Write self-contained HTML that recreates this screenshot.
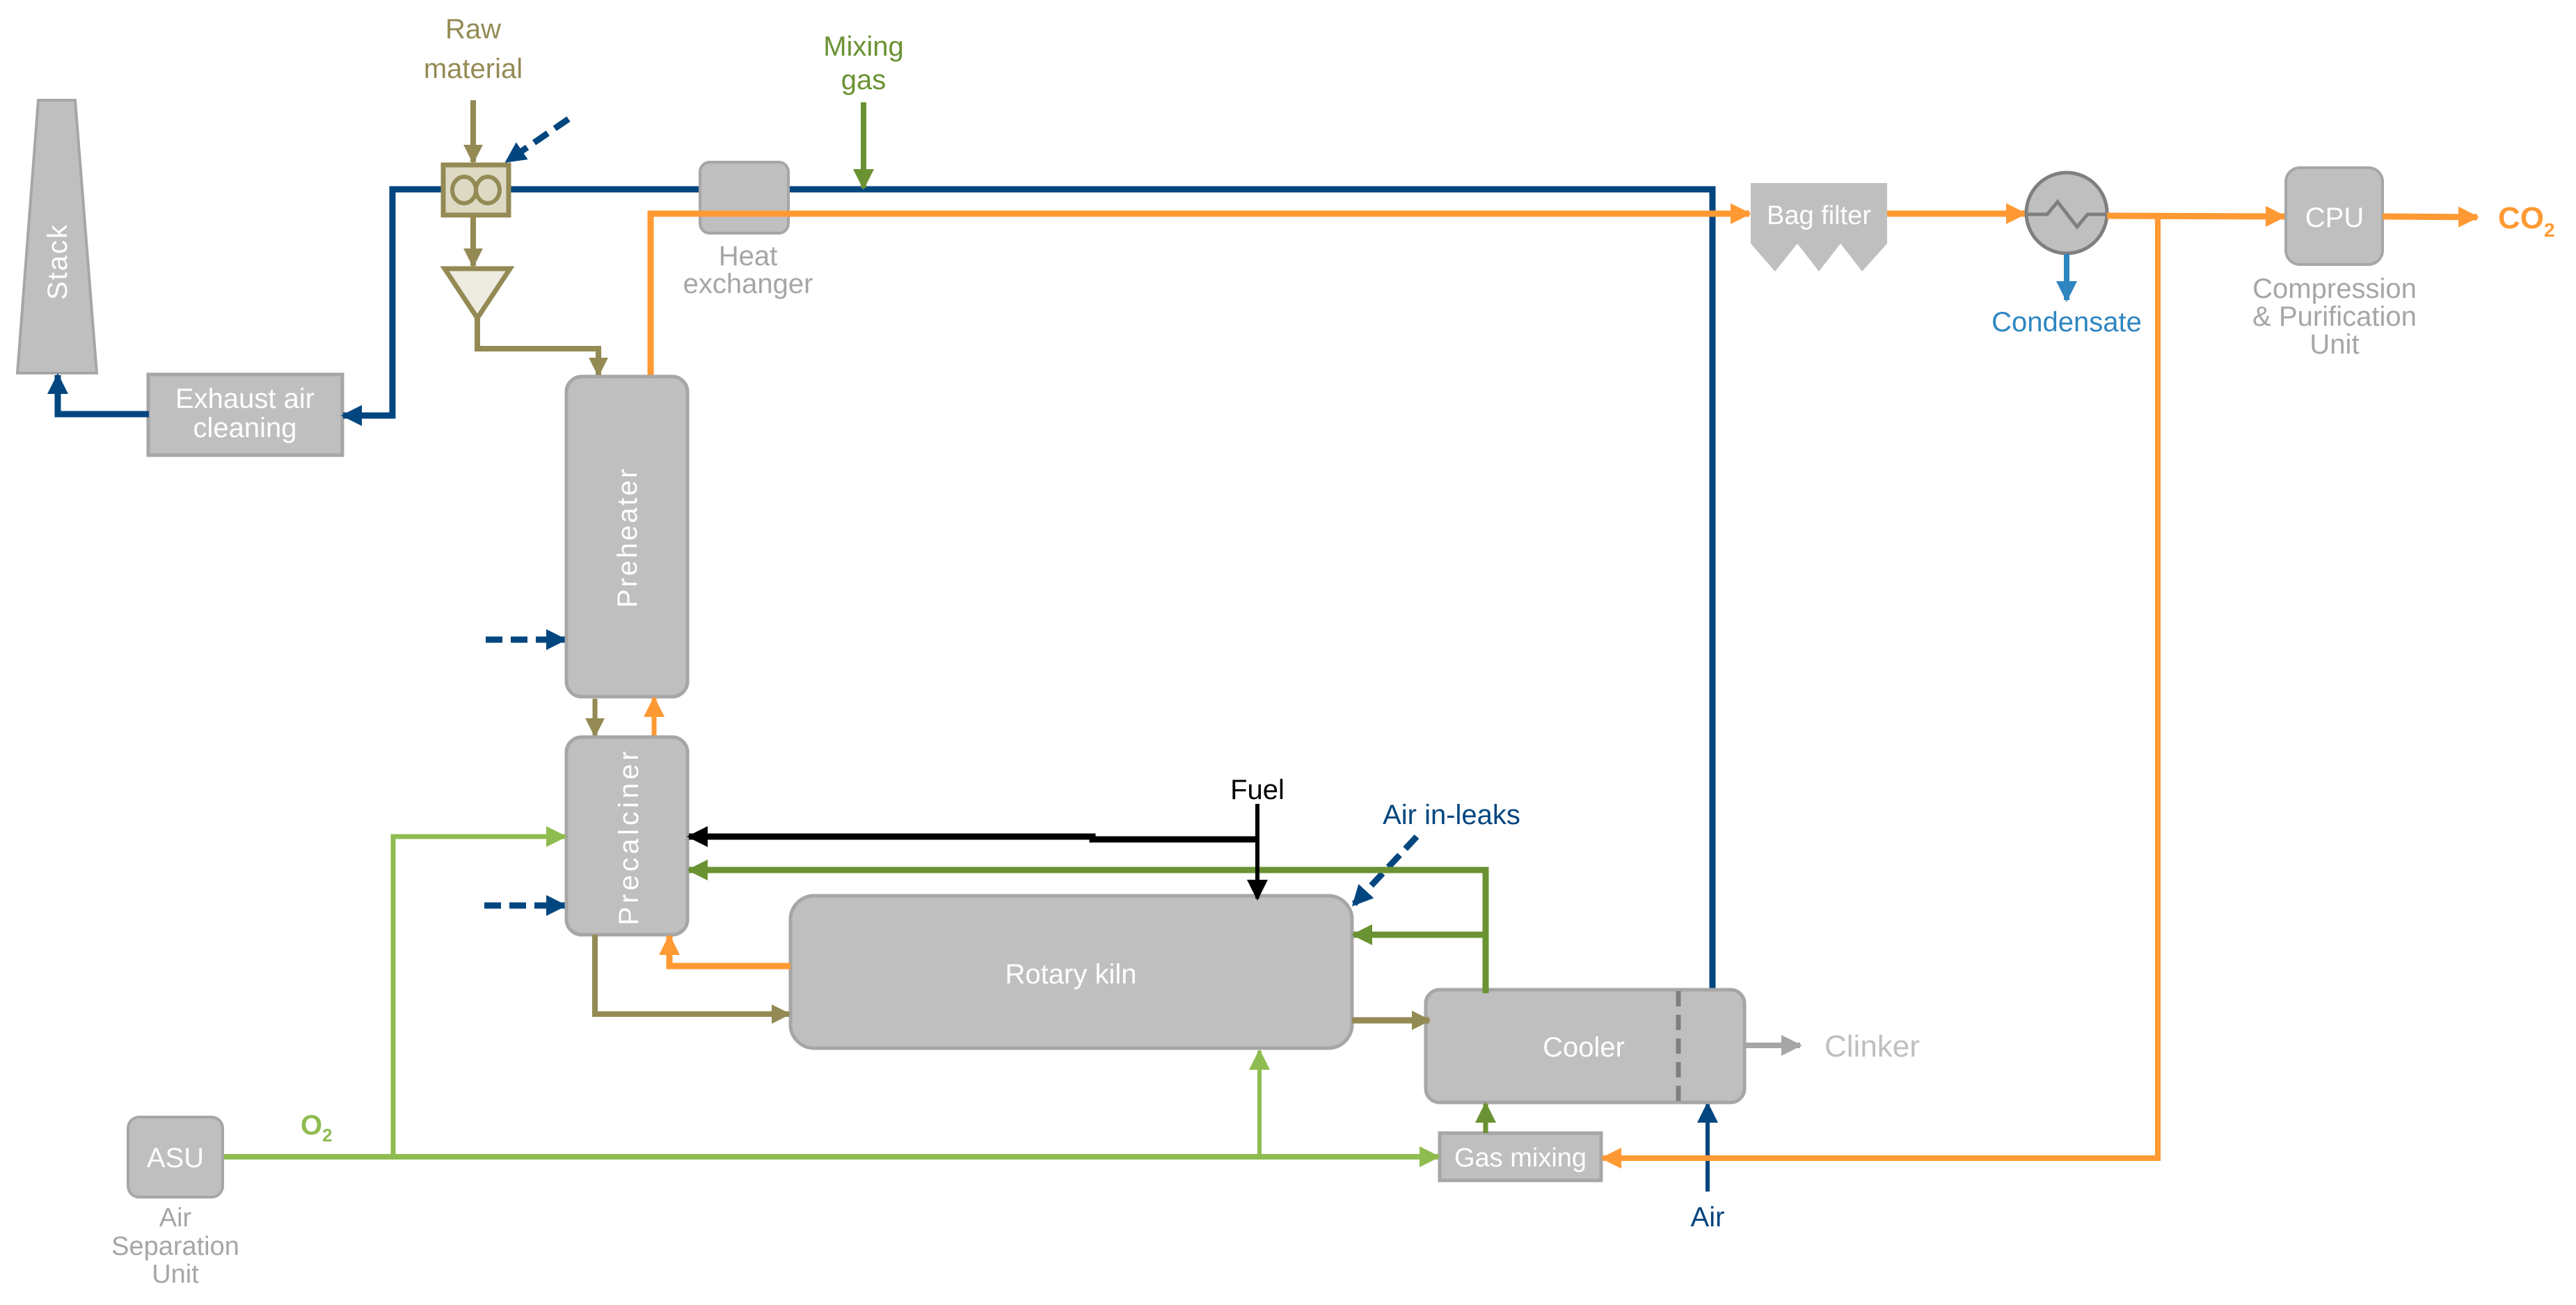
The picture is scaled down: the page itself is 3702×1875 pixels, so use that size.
<!DOCTYPE html>
<html><head><meta charset="utf-8"><style>
html,body{margin:0;padding:0;background:#fff;}
svg{display:block;font-family:"Liberation Sans",sans-serif;}
</style></head><body>
<svg width="3702" height="1875" viewBox="0 0 3702 1875" xmlns="http://www.w3.org/2000/svg">
<defs>
<marker id="aN" viewBox="0 0 10 10" refX="9" refY="5" markerUnits="userSpaceOnUse" markerWidth="30" markerHeight="30" orient="auto"><path d="M0,0L10,5L0,10z" fill="#02467f"/></marker>
<marker id="aO" viewBox="0 0 10 10" refX="9" refY="5" markerUnits="userSpaceOnUse" markerWidth="30" markerHeight="30" orient="auto"><path d="M0,0L10,5L0,10z" fill="#ff9933"/></marker>
<marker id="aB" viewBox="0 0 10 10" refX="9" refY="5" markerUnits="userSpaceOnUse" markerWidth="28" markerHeight="28" orient="auto"><path d="M0,0L10,5L0,10z" fill="#948a54"/></marker>
<marker id="aL" viewBox="0 0 10 10" refX="9" refY="5" markerUnits="userSpaceOnUse" markerWidth="30" markerHeight="30" orient="auto"><path d="M0,0L10,5L0,10z" fill="#8fbc50"/></marker>
<marker id="aG" viewBox="0 0 10 10" refX="9" refY="5" markerUnits="userSpaceOnUse" markerWidth="30" markerHeight="30" orient="auto"><path d="M0,0L10,5L0,10z" fill="#6a9232"/></marker>
<marker id="aK" viewBox="0 0 10 10" refX="9" refY="5" markerUnits="userSpaceOnUse" markerWidth="30" markerHeight="30" orient="auto"><path d="M0,0L10,5L0,10z" fill="#000"/></marker>
<marker id="aC" viewBox="0 0 10 10" refX="9" refY="5" markerUnits="userSpaceOnUse" markerWidth="30" markerHeight="30" orient="auto"><path d="M0,0L10,5L0,10z" fill="#2e86c1"/></marker>
<marker id="aY" viewBox="0 0 10 10" refX="9" refY="5" markerUnits="userSpaceOnUse" markerWidth="30" markerHeight="30" orient="auto"><path d="M0,0L10,5L0,10z" fill="#a6a6a6"/></marker>
</defs>

<!-- Stack -->
<polygon points="55,144 108,144 139,536 25,536" fill="#bfbfbf" stroke="#a6a6a6" stroke-width="4"/>
<text x="0" y="0" transform="translate(96,376) rotate(-90)" font-size="40" fill="#fff" text-anchor="middle" letter-spacing="2">Stack</text>

<!-- Exhaust air cleaning -->
<rect x="213" y="538" width="279" height="116" fill="#bfbfbf" stroke="#a6a6a6" stroke-width="5"/>
<text x="352" y="586" font-size="40" fill="#fff" text-anchor="middle">Exhaust air</text>
<text x="352" y="628" font-size="40" fill="#fff" text-anchor="middle">cleaning</text>

<!-- navy lines -->
<polyline points="214,595 83,595 83,539" fill="none" stroke="#02467f" stroke-width="9" marker-end="url(#aN)"/>
<polyline points="635,272 564,272 564,597 493,597" fill="none" stroke="#02467f" stroke-width="9" marker-end="url(#aN)"/>
<polyline points="733,272 2461,272 2461,1427" fill="none" stroke="#02467f" stroke-width="9"/>
<line x1="817" y1="171" x2="728" y2="232" stroke="#02467f" stroke-width="9" stroke-dasharray="24,12" marker-end="url(#aN)"/>
<line x1="698" y1="919" x2="812" y2="919" stroke="#02467f" stroke-width="9" stroke-dasharray="24,12" marker-end="url(#aN)"/>
<line x1="696" y1="1301" x2="812" y2="1301" stroke="#02467f" stroke-width="9" stroke-dasharray="24,12" marker-end="url(#aN)"/>
<line x1="2036" y1="1202" x2="1945" y2="1300" stroke="#02467f" stroke-width="9" stroke-dasharray="24,12" marker-end="url(#aN)"/>
<line x1="2454" y1="1712" x2="2454" y2="1586" stroke="#02467f" stroke-width="6" marker-end="url(#aN)"/>

<!-- Raw material -->
<text x="680" y="55" font-size="40" fill="#948a54" text-anchor="middle">Raw</text>
<text x="680" y="112" font-size="40" fill="#948a54" text-anchor="middle">material</text>
<line x1="680" y1="144" x2="680" y2="233" stroke="#948a54" stroke-width="8" marker-end="url(#aB)"/>
<rect x="637" y="237" width="94" height="72" fill="#ddd9c3" stroke="#948a54" stroke-width="7"/>
<ellipse cx="667" cy="273" rx="17" ry="19" fill="#ddd9c3" stroke="#948a54" stroke-width="6"/>
<ellipse cx="701" cy="273" rx="17" ry="19" fill="#ddd9c3" stroke="#948a54" stroke-width="6"/>
<line x1="680" y1="310" x2="680" y2="382" stroke="#948a54" stroke-width="8" marker-end="url(#aB)"/>
<polygon points="639,386 733,386 686,457" fill="#eeece1" stroke="#948a54" stroke-width="7"/>
<polyline points="686,457 686,501 860,501 860,539" fill="none" stroke="#948a54" stroke-width="8" marker-end="url(#aB)"/>

<!-- Mixing gas -->
<text x="1241" y="80" font-size="40" fill="#6a9232" text-anchor="middle">Mixing</text>
<text x="1241" y="128" font-size="40" fill="#6a9232" text-anchor="middle">gas</text>
<line x1="1241" y1="147" x2="1241" y2="270" stroke="#6a9232" stroke-width="8" marker-end="url(#aG)"/>

<!-- Heat exchanger -->
<rect x="1006" y="233" width="127" height="102" rx="14" fill="#bfbfbf" stroke="#a6a6a6" stroke-width="4"/>
<text x="1075" y="381" font-size="40" fill="#a6a6a6" text-anchor="middle">Heat</text>
<text x="1075" y="421" font-size="40" fill="#a6a6a6" text-anchor="middle">exchanger</text>

<!-- orange top line -->
<polyline points="935,541 935,307 2514,307" fill="none" stroke="#ff9933" stroke-width="9" marker-end="url(#aO)"/>

<!-- Preheater -->
<rect x="814" y="541" width="174" height="460" rx="22" fill="#bfbfbf" stroke="#a6a6a6" stroke-width="5"/>
<text transform="translate(915,772) rotate(-90)" font-size="40" fill="#fff" text-anchor="middle" letter-spacing="3">Preheater</text>

<!-- between -->
<line x1="855" y1="1004" x2="855" y2="1057" stroke="#948a54" stroke-width="7" marker-end="url(#aB)"/>
<line x1="940" y1="1058" x2="940" y2="1003" stroke="#ff9933" stroke-width="7" marker-end="url(#aO)"/>

<!-- Precalciner -->
<rect x="814" y="1059" width="174" height="284" rx="22" fill="#bfbfbf" stroke="#a6a6a6" stroke-width="5"/>
<text transform="translate(917,1202) rotate(-90)" font-size="40" fill="#fff" text-anchor="middle" letter-spacing="5">Precalciner</text>

<!-- Rotary kiln -->
<rect x="1136" y="1287" width="807" height="219" rx="34" fill="#bfbfbf" stroke="#a6a6a6" stroke-width="5"/>
<text x="1539" y="1413" font-size="40" fill="#fff" text-anchor="middle">Rotary kiln</text>

<!-- Cooler -->
<rect x="2049" y="1422" width="458" height="162" rx="20" fill="#bfbfbf" stroke="#a6a6a6" stroke-width="5"/>
<line x1="2412" y1="1424" x2="2412" y2="1582" stroke="#7f7f7f" stroke-width="7" stroke-dasharray="22,12"/>
<text x="2276" y="1518" font-size="40" fill="#fff" text-anchor="middle">Cooler</text>
<line x1="2509" y1="1502" x2="2587" y2="1502" stroke="#a6a6a6" stroke-width="8" marker-end="url(#aY)"/>
<text x="2622" y="1518" font-size="44" fill="#bfbfbf">Clinker</text>

<!-- Gas mixing -->
<rect x="2069" y="1628" width="232" height="68" fill="#bfbfbf" stroke="#a6a6a6" stroke-width="5"/>
<text x="2185" y="1676" font-size="38" fill="#fff" text-anchor="middle">Gas mixing</text>
<line x1="2135" y1="1628" x2="2135" y2="1586" stroke="#6a9232" stroke-width="7" marker-end="url(#aG)"/>

<!-- orange kiln -> precalciner -->
<polyline points="1136,1388 962,1388 962,1345" fill="none" stroke="#ff9933" stroke-width="9" marker-end="url(#aO)"/>
<!-- brown precalciner -> kiln -->
<polyline points="855,1343 855,1457 1134,1457" fill="none" stroke="#948a54" stroke-width="8" marker-end="url(#aB)"/>
<line x1="1943" y1="1466" x2="2054" y2="1466" stroke="#948a54" stroke-width="9" marker-end="url(#aB)"/>

<!-- green O2 -->
<polyline points="320,1662 2067,1662" fill="none" stroke="#8fbc50" stroke-width="8" marker-end="url(#aL)"/>
<polyline points="565,1662 565,1202 812,1202" fill="none" stroke="#8fbc50" stroke-width="7" marker-end="url(#aL)"/>
<line x1="1810" y1="1662" x2="1810" y2="1510" stroke="#8fbc50" stroke-width="6" marker-end="url(#aL)"/>
<text x="432" y="1630" font-size="40" fill="#8fbc50" font-weight="bold">O<tspan font-size="26" dy="10">2</tspan></text>

<!-- dark green -->
<polyline points="2135,1427 2135,1250 990,1250" fill="none" stroke="#6a9232" stroke-width="9" marker-end="url(#aG)"/>
<polyline points="2135,1343 1945,1343" fill="none" stroke="#6a9232" stroke-width="9" marker-end="url(#aG)"/>

<!-- Fuel -->
<text x="1807" y="1148" font-size="40" fill="#000" text-anchor="middle">Fuel</text>
<line x1="1807" y1="1155" x2="1807" y2="1291" stroke="#000" stroke-width="6" marker-end="url(#aK)"/>
<polyline points="1807,1206 1570,1206 1570,1202 990,1202" fill="none" stroke="#000" stroke-width="9" marker-end="url(#aK)"/>

<text x="2086" y="1184" font-size="40" fill="#02467f" text-anchor="middle">Air in-leaks</text>
<text x="2454" y="1762" font-size="40" fill="#02467f" text-anchor="middle">Air</text>

<!-- ASU -->
<rect x="184" y="1605" width="136" height="115" rx="16" fill="#bfbfbf" stroke="#a6a6a6" stroke-width="4"/>
<text x="252" y="1677" font-size="40" fill="#fff" text-anchor="middle">ASU</text>
<text x="252" y="1762" font-size="38" fill="#a6a6a6" text-anchor="middle">Air</text>
<text x="252" y="1803" font-size="38" fill="#a6a6a6" text-anchor="middle">Separation</text>
<text x="252" y="1843" font-size="38" fill="#a6a6a6" text-anchor="middle">Unit</text>

<!-- Bag filter -->
<polygon points="2516,263 2712,263 2712,350 2676,390 2645,350 2614,390 2583,350 2551,390 2516,350" fill="#bfbfbf"/>
<text x="2614" y="322" font-size="38" fill="#fff" text-anchor="middle">Bag filter</text>

<!-- condenser -->
<line x1="2712" y1="307" x2="2910" y2="307" stroke="#ff9933" stroke-width="9" marker-end="url(#aO)"/>
<circle cx="2970" cy="306" r="58" fill="#bfbfbf" stroke="#7f7f7f" stroke-width="5"/>
<polyline points="2912,308 2942,308 2957,290 2985,326 3000,308 3028,308" fill="none" stroke="#7f7f7f" stroke-width="5"/>
<line x1="2970" y1="365" x2="2970" y2="431" stroke="#2e86c1" stroke-width="8" marker-end="url(#aC)"/>
<text x="2970" y="476" font-size="40" fill="#2e86c1" text-anchor="middle">Condensate</text>

<polyline points="3028,310 3283,311" fill="none" stroke="#ff9933" stroke-width="9" marker-end="url(#aO)"/>
<polyline points="3101,310 3101,1664 2303,1664" fill="none" stroke="#ff9933" stroke-width="8" marker-end="url(#aO)"/>

<!-- CPU -->
<rect x="3285" y="241" width="139" height="139" rx="20" fill="#bfbfbf" stroke="#a6a6a6" stroke-width="4"/>
<text x="3355" y="326" font-size="40" fill="#fff" text-anchor="middle">CPU</text>
<text x="3355" y="428" font-size="40" fill="#a6a6a6" text-anchor="middle">Compression</text>
<text x="3355" y="468" font-size="40" fill="#a6a6a6" text-anchor="middle">&amp; Purification</text>
<text x="3355" y="508" font-size="40" fill="#a6a6a6" text-anchor="middle">Unit</text>
<line x1="3424" y1="311" x2="3560" y2="312" stroke="#ff9933" stroke-width="9" marker-end="url(#aO)"/>
<text x="3590" y="328" font-size="44" fill="#ff9933" font-weight="bold">CO<tspan font-size="28" dy="12">2</tspan></text>
</svg>
</body></html>
